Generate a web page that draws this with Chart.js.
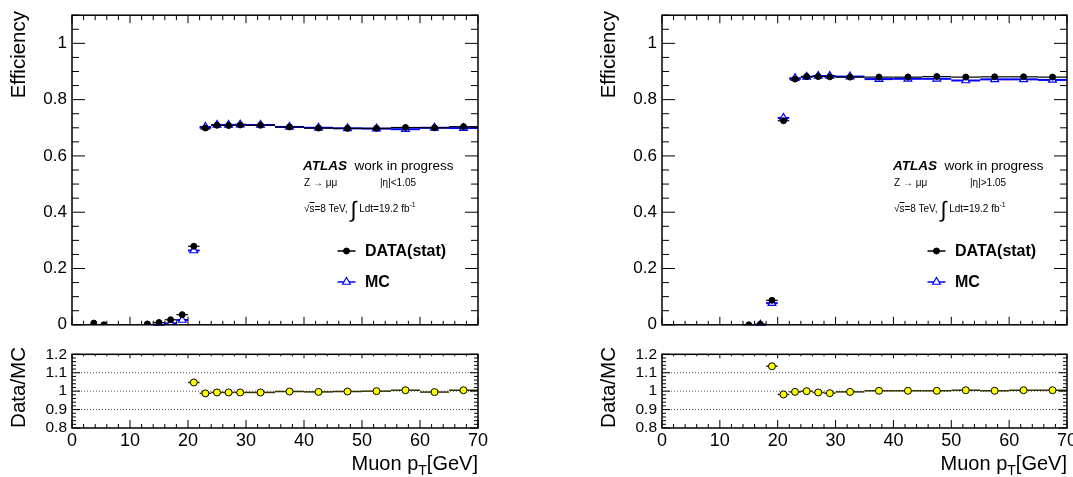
<!DOCTYPE html>
<html>
<head>
<meta charset="utf-8">
<title>Muon trigger efficiency vs pT</title>
<script src="https://cdn.jsdelivr.net/npm/chart.js@4.4.1/dist/chart.umd.min.js"></script>
<style>
  body { margin: 0; background: #fff; }
  #page { position: relative; width: 1073px; height: 477px; overflow: hidden; background: #fff;
          font-family: "Liberation Sans", Arial, Helvetica, sans-serif; color: #000; }
  #page canvas { position: absolute; }
  .lbl { position: absolute; white-space: nowrap; line-height: 1; }
  .vtitle { writing-mode: vertical-rl; transform: rotate(180deg); font-size: 20.5px; }
  .xtitle { font-size: 20px; width: 200px; text-align: right; }
  .xtitle sub { font-size: 14px; vertical-align: -5px; }
  .atlas { font-size: 13.5px; }
  .atlas b { font-style: italic; }
  .small { font-size: 10px; }
  .small sup { font-size: 7px; vertical-align: 5px; }
  .integral { font-size: 22px; vertical-align: -5px; }
  .leg { font-size: 16px; font-weight: bold; }
</style>
</head>
<body>
<div id="page">
  <canvas id="effBarrel" width="536" height="340" style="left:0;top:0"></canvas>
  <canvas id="ratioBarrel" width="536" height="137" style="left:0;top:340px"></canvas>
  <canvas id="effEndcap" width="536" height="340" style="left:590px;top:0"></canvas>
  <canvas id="ratioEndcap" width="536" height="137" style="left:590px;top:340px"></canvas>

  <!-- |eta| < 1.05 -->
  <div class="lbl vtitle" style="left:8px;top:11px">Efficiency</div>
  <div class="lbl vtitle" style="left:8px;top:347px">Data/MC</div>
  <div class="lbl xtitle" style="left:278px;top:453px">Muon p<sub>T</sub>[GeV]</div>
  <div class="lbl atlas" style="left:303px;top:159px"><b>ATLAS</b>&nbsp; work in progress</div>
  <div class="lbl small" style="left:304px;top:178px">Z → μμ</div>
  <div class="lbl small" style="left:380px;top:178px">|η|&lt;1.05</div>
  <div class="lbl small" style="left:304px;top:199px">√<span style="text-decoration:overline">s</span>=8 TeV, <span class="integral">∫</span> Ldt=19.2 fb<sup>-1</sup></div>
  <div class="lbl leg" style="left:365px;top:243px">DATA(stat)</div>
  <div class="lbl leg" style="left:365px;top:274px">MC</div>

  <!-- |eta| > 1.05 -->
  <div class="lbl vtitle" style="left:598px;top:11px">Efficiency</div>
  <div class="lbl vtitle" style="left:598px;top:347px">Data/MC</div>
  <div class="lbl xtitle" style="left:867px;top:453px">Muon p<sub>T</sub>[GeV]</div>
  <div class="lbl atlas" style="left:893px;top:159px"><b>ATLAS</b>&nbsp; work in progress</div>
  <div class="lbl small" style="left:894px;top:178px">Z → μμ</div>
  <div class="lbl small" style="left:970px;top:178px">|η|&gt;1.05</div>
  <div class="lbl small" style="left:894px;top:199px">√<span style="text-decoration:overline">s</span>=8 TeV, <span class="integral">∫</span> Ldt=19.2 fb<sup>-1</sup></div>
  <div class="lbl leg" style="left:955px;top:243px">DATA(stat)</div>
  <div class="lbl leg" style="left:955px;top:274px">MC</div>
</div>

<script>
// ---- barrel, |eta| < 1.05 ----
const ptBarrel      = [3.75, 5.5, 13, 15, 17, 19, 21, 23, 25, 27, 29, 32.5, 37.5, 42.5, 47.5, 52.5, 57.5, 62.5, 67.5];
const binHalfBarrel = [0, 0, 0, 1, 1, 1, 1, 1, 1, 1, 1, 2.5, 2.5, 2.5, 2.5, 2.5, 2.5, 2.5, 2.5];
const effDataBarrel = [0.006, 0.000, 0.003, 0.008, 0.018, 0.036, 0.279, 0.699, 0.709, 0.708, 0.710, 0.709, 0.703, 0.699, 0.698, 0.698, 0.701, 0.700, 0.704];
const effMcBarrel   = [null, null, null, 0.000, 0.005, 0.017, 0.264, 0.703, 0.710, 0.710, 0.711, 0.710, 0.703, 0.700, 0.698, 0.697, 0.695, 0.700, 0.699];
const ratioBarrel   = [null, null, null, null, null, null, 1.047, 0.988, 0.993, 0.993, 0.993, 0.993, 0.998, 0.996, 0.998, 1.000, 1.005, 0.995, 1.005];

// ---- endcap, |eta| > 1.05 ----
const ptEndcap      = [15, 17, 19, 21, 23, 25, 27, 29, 32.5, 37.5, 42.5, 47.5, 52.5, 57.5, 62.5, 67.5];
const binHalfEndcap = [1, 1, 1, 1, 1, 1, 1, 1, 2.5, 2.5, 2.5, 2.5, 2.5, 2.5, 2.5, 2.5];
const effDataEndcap = [0.000, 0.002, 0.087, 0.725, 0.873, 0.882, 0.882, 0.881, 0.880, 0.880, 0.880, 0.882, 0.880, 0.881, 0.881, 0.880];
const effMcEndcap   = [null, 0.000, 0.077, 0.735, 0.876, 0.881, 0.884, 0.884, 0.882, 0.873, 0.874, 0.874, 0.868, 0.872, 0.872, 0.870];
const ratioEndcap   = [null, null, 1.135, 0.982, 0.996, 1.000, 0.993, 0.989, 0.996, 1.002, 1.002, 1.002, 1.005, 1.002, 1.005, 1.005];

// axis ticks
const xTickValues   = [0, 10, 20, 30, 40, 50, 60, 70];
const xTickLabels   = ['0', '10', '20', '30', '40', '50', '60', '70'];
const effTickValues = [0, 0.2, 0.4, 0.6, 0.8, 1.0];
const effTickLabels = ['0', '0.2', '0.4', '0.6', '0.8', '1'];
const ratioTickValues = [0.8, 0.9, 1.0, 1.1, 1.2];
const ratioTickLabels = ['0.8', '0.9', '1', '1.1', '1.2'];
const ratioRefLines = [0.9, 1.0, 1.1];

const FONT = '"Liberation Sans", Arial, Helvetica, sans-serif';

const toXY = (xs, ys) => xs.map((x, i) => ({ x, y: ys[i] }));

// run over a regular tick grid and flag the major ones
function tickRun(min, max, step, major, fn) {
    const n = Math.round((max - min) / step);
    for (let k = 0; k <= n; k++) {
        const v = min + k * step;
        const r = v / major;
        fn(v, Math.abs(r - Math.round(r)) < 1e-6);
    }
}

// ROOT-like look: frame, inward ticks on all four sides, bin-width bars, dotted lines
const rootStyle = {
    id: 'rootStyle',
    beforeDatasetsDraw(chart, args, opts) {
        const { ctx, chartArea: a, scales: { x, y } } = chart;
        ctx.save();
        (opts.refLines || []).forEach(v => {
            const py = y.getPixelForValue(v);
            ctx.strokeStyle = '#555';
            ctx.lineWidth = 1;
            ctx.setLineDash([1, 2]);
            ctx.beginPath();
            ctx.moveTo(a.left, py);
            ctx.lineTo(a.right, py);
            ctx.stroke();
        });
        ctx.setLineDash([]);
        // horizontal bars spanning each bin, last dataset first so data ends on top
        for (let i = chart.data.datasets.length - 1; i >= 0; i--) {
            const ds = chart.data.datasets[i];
            if (!ds.xErr) continue;
            ctx.strokeStyle = ds.barColor;
            ctx.lineWidth = ds.barWidth;
            ds.data.forEach((p, j) => {
                if (p.y === null || !ds.xErr[j]) return;
                const py = y.getPixelForValue(p.y);
                ctx.beginPath();
                ctx.moveTo(x.getPixelForValue(p.x - ds.xErr[j]), py);
                ctx.lineTo(x.getPixelForValue(p.x + ds.xErr[j]), py);
                ctx.stroke();
            });
        }
        ctx.restore();
    },
    afterDatasetsDraw(chart, args, opts) {
        const { ctx, chartArea: a, scales: { x, y } } = chart;
        const t = opts.ticks;
        ctx.save();
        ctx.strokeStyle = '#000';
        ctx.lineWidth = 1;
        ctx.beginPath();
        tickRun(x.min, x.max, t.xStep, t.xMajor, (v, major) => {
            const px = x.getPixelForValue(v);
            const lb = major ? t.xLenMajor : t.xLen;
            const lt = major ? t.xTopLenMajor : t.xTopLen;
            ctx.moveTo(px, a.bottom); ctx.lineTo(px, a.bottom - lb);
            ctx.moveTo(px, a.top); ctx.lineTo(px, a.top + lt);
        });
        tickRun(y.min, y.max, t.yStep, t.yMajor, (v, major) => {
            const py = y.getPixelForValue(v);
            const l = major ? t.yLenMajor : t.yLen;
            ctx.moveTo(a.left, py); ctx.lineTo(a.left + l, py);
            ctx.moveTo(a.right, py); ctx.lineTo(a.right - l, py);
        });
        ctx.stroke();
        ctx.lineWidth = 1.5;
        ctx.strokeRect(a.left, a.top, a.right - a.left, a.bottom - a.top);
        ctx.restore();
    },
    afterDraw(chart, args, opts) {
        // legend symbols: short line with the dataset's marker in the middle
        const { ctx } = chart;
        (opts.keys || []).forEach(k => {
            const ds = chart.data.datasets[k.dataset];
            ctx.save();
            ctx.strokeStyle = ds.barColor;
            ctx.lineWidth = 1.5;
            ctx.beginPath();
            ctx.moveTo(k.x - 9, k.y);
            ctx.lineTo(k.x + 9, k.y);
            ctx.stroke();
            ctx.fillStyle = ds.backgroundColor;
            ctx.strokeStyle = ds.borderColor;
            ctx.lineWidth = ds.borderWidth;
            Chart.helpers.drawPoint(ctx, { pointStyle: ds.pointStyle, radius: ds.pointRadius, rotation: 0, borderWidth: ds.borderWidth }, k.x, k.y);
            ctx.restore();
        });
    }
};

function xScale(showLabels) {
    return {
        type: 'linear', min: 0, max: 70,
        display: showLabels,
        grid: { display: false, drawTicks: false },
        border: { display: false },
        afterBuildTicks: s => { s.ticks = xTickValues.map(v => ({ value: v })); },
        afterFit: s => { s.height = showLabels ? 49 : 0; },
        ticks: {
            padding: 2, color: '#000', maxRotation: 0, autoSkip: false,
            font: { family: FONT, size: 18 },
            callback: (v, i) => xTickLabels[i]
        }
    };
}

function yScale(min, max, values, labels, size) {
    return {
        type: 'linear', min, max,
        grid: { display: false, drawTicks: false },
        border: { display: false },
        afterBuildTicks: s => { s.ticks = values.map(v => ({ value: v })); },
        afterFit: s => { s.width = 72; },
        ticks: {
            padding: 5, color: '#000', autoSkip: false,
            font: { family: FONT, size },
            callback: (v, i) => labels[i]
        }
    };
}

function effChart(id, pt, half, effData, effMc, rightPad) {
    return new Chart(document.getElementById(id), {
        type: 'scatter',
        data: {
            datasets: [
                { label: 'DATA(stat)', data: toXY(pt, effData), xErr: half,
                  pointStyle: 'circle', pointRadius: 3, borderWidth: 1,
                  backgroundColor: '#000', borderColor: '#000', barColor: '#000', barWidth: 1.2 },
                { label: 'MC', data: toXY(pt, effMc), xErr: half,
                  pointStyle: 'triangle', pointRadius: 4.5, borderWidth: 1.2,
                  backgroundColor: '#fff', borderColor: '#0000ff', barColor: '#0000ff', barWidth: 2 }
            ]
        },
        options: {
            responsive: false, animation: false,
            layout: { padding: { left: 0, top: 14, right: rightPad, bottom: 12.5 } },
            scales: { x: xScale(false), y: yScale(0, 1.1, effTickValues, effTickLabels, 17) },
            plugins: {
                legend: { display: false }, tooltip: { enabled: false },
                rootStyle: {
                    ticks: { xStep: 2, xMajor: 10, xLen: 4, xLenMajor: 8, xTopLen: 5, xTopLenMajor: 8,
                             yStep: 0.05, yMajor: 0.2, yLen: 7, yLenMajor: 13 },
                    keys: [{ dataset: 0, x: 346.5, y: 251 }, { dataset: 1, x: 346.5, y: 282 }]
                }
            }
        },
        plugins: [rootStyle]
    });
}

function ratioChart(id, pt, half, ratio, rightPad) {
    return new Chart(document.getElementById(id), {
        type: 'scatter',
        data: {
            datasets: [
                { label: 'Data/MC', data: toXY(pt, ratio), xErr: half,
                  pointStyle: 'circle', pointRadius: 3.5, borderWidth: 1,
                  backgroundColor: '#ffff00', borderColor: '#000', barColor: '#333300', barWidth: 1.5 }
            ]
        },
        options: {
            responsive: false, animation: false,
            layout: { padding: { left: 0, top: 14, right: rightPad, bottom: 0 } },
            scales: { x: xScale(true), y: yScale(0.8, 1.2, ratioTickValues, ratioTickLabels, 15.5) },
            plugins: {
                legend: { display: false }, tooltip: { enabled: false },
                rootStyle: {
                    refLines: ratioRefLines,
                    ticks: { xStep: 2, xMajor: 10, xLen: 4, xLenMajor: 8, xTopLen: 2, xTopLenMajor: 4,
                             yStep: 0.02, yMajor: 0.1, yLen: 4, yLenMajor: 8 }
                }
            }
        },
        plugins: [rootStyle]
    });
}

effChart('effBarrel', ptBarrel, binHalfBarrel, effDataBarrel, effMcBarrel, 58);
ratioChart('ratioBarrel', ptBarrel, binHalfBarrel, ratioBarrel, 58);
effChart('effEndcap', ptEndcap, binHalfEndcap, effDataEndcap, effMcEndcap, 59);
ratioChart('ratioEndcap', ptEndcap, binHalfEndcap, ratioEndcap, 59);
</script>
</body>
</html>
